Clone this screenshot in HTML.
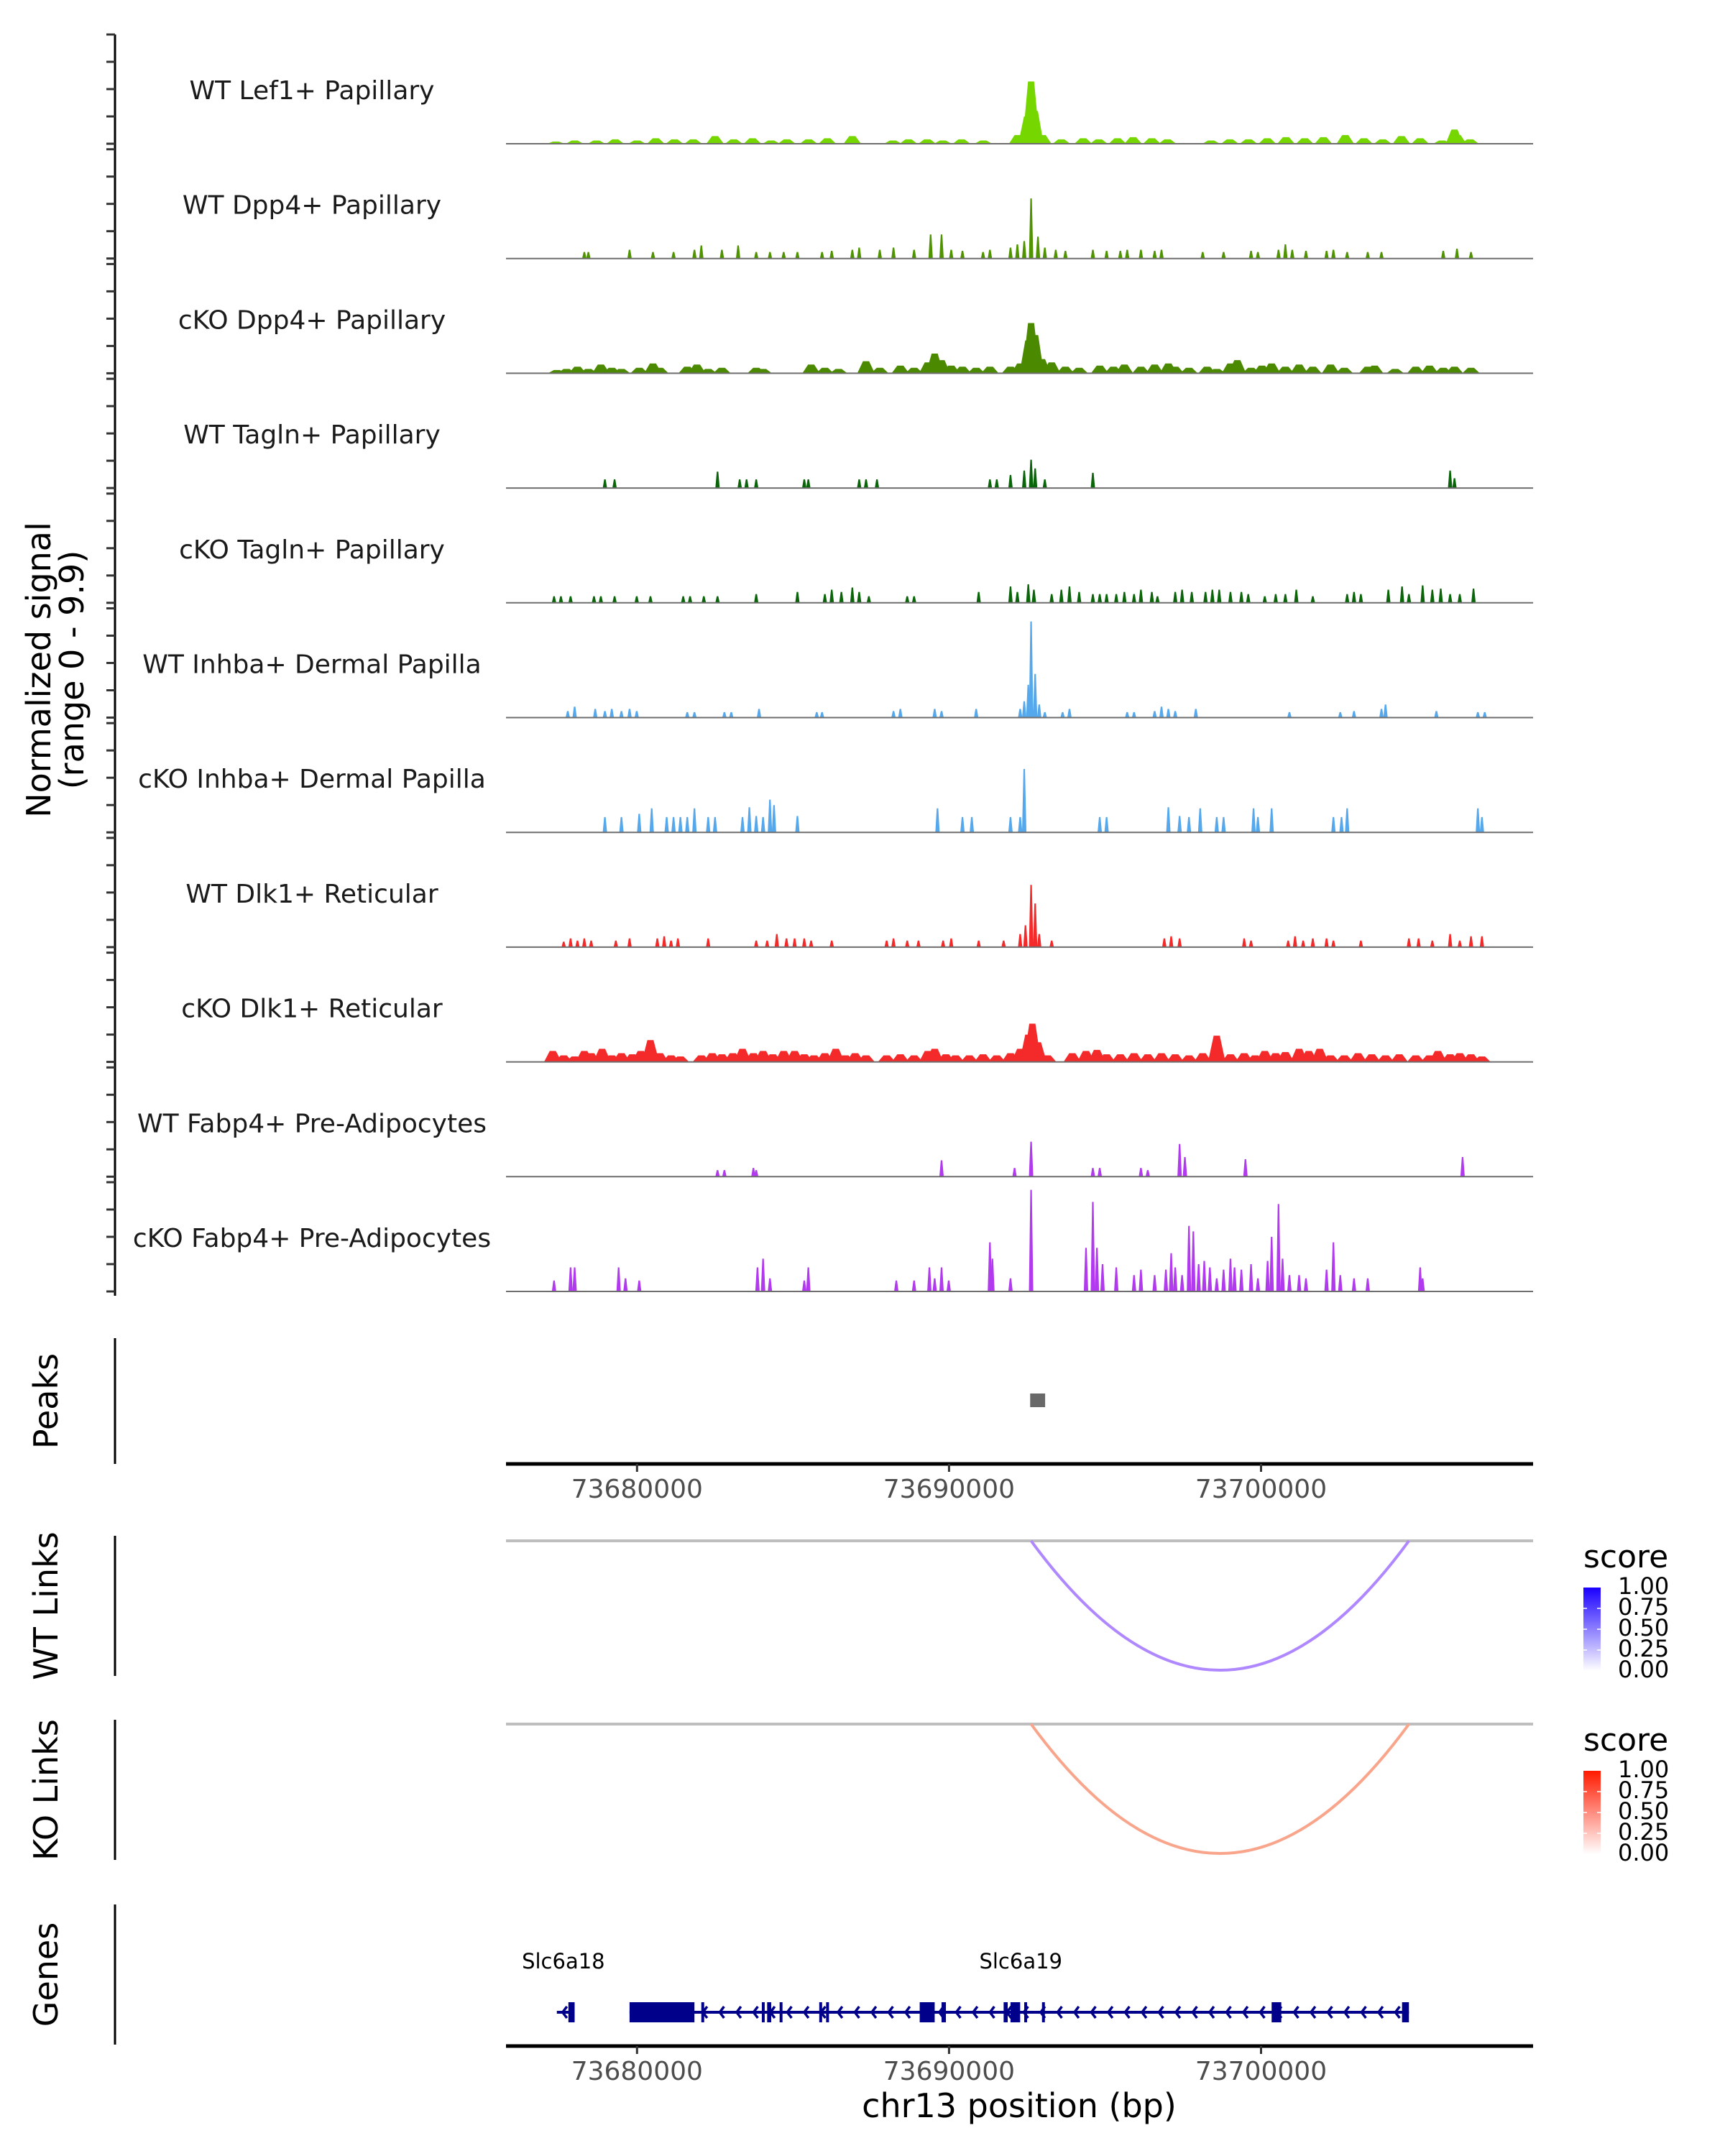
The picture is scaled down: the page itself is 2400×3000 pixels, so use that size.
<!DOCTYPE html>
<html><head><meta charset="utf-8"><style>
html,body{margin:0;padding:0;background:#fff}
svg{display:block;font-family:"DejaVu Sans","Liberation Sans",sans-serif}
</style></head><body>
<svg id="chart" width="2400" height="3000" viewBox="0 0 2400 3000" xmlns="http://www.w3.org/2000/svg">
<rect x="0" y="0" width="2400" height="3000" fill="#fff"/>
<g id="tracks"></g>
<g id="lower"></g>
</svg>
<script>
// ---- data (positions are kb offsets from region start 73675.8 kb) ----
const regionStartKb = 73675.8;
const regionEndKb = 73708.72;
const xTicks = [73680000, 73690000, 73700000];
const trackNames = ["WT Lef1+ Papillary","WT Dpp4+ Papillary","cKO Dpp4+ Papillary","WT Tagln+ Papillary","cKO Tagln+ Papillary","WT Inhba+ Dermal Papilla","cKO Inhba+ Dermal Papilla","WT Dlk1+ Reticular","cKO Dlk1+ Reticular","WT Fabp4+ Pre-Adipocytes","cKO Fabp4+ Pre-Adipocytes"];
const trackColors = ["#76d600","#4f9400","#4b8a00","#0a650a","#0a650a","#56a8ec","#56a8ec","#f42a2a","#f42a2a","#b23aee","#b23aee"];
const signalMax = 9.9;

const pos0 = [1.6,2.2,2.9,3.5,4.2,4.8,5.4,6.0,6.7,7.3,7.9,8.5,9.0,9.7,10.3,11.1,12.4,12.9,13.5,14.0,14.6,15.3,16.4,16.7,16.83,16.95,17.2,17.8,18.5,19.0,19.6,20.1,20.7,21.2,22.6,23.2,23.8,24.4,25.0,25.6,26.2,26.9,27.5,28.1,28.7,29.3,30.0,30.4,30.5,30.9];
const val0 = [.2,.3,.3,.4,.3,.5,.4,.4,.7,.4,.5,.3,.4,.4,.5,.7,.3,.4,.4,.3,.4,.3,.8,2.5,5.7,3,.8,.4,.5,.4,.5,.6,.5,.4,.3,.4,.4,.5,.6,.5,.6,.8,.5,.4,.7,.5,.3,1.3,.8,.4];
const pos1 = [2.51,2.64,3.96,4.71,5.37,6.04,6.26,6.92,7.44,8.02,8.46,8.9,9.34,10.13,10.44,11.1,11.32,11.98,12.42,13.08,13.61,13.96,14.27,14.63,15.29,15.51,16.17,16.39,16.61,16.83,17.05,17.27,17.62,17.93,18.81,19.25,19.69,19.91,20.35,20.79,21.01,22.33,23.0,23.88,24.1,24.76,24.98,25.2,25.64,26.3,26.52,26.96,27.62,28.06,30.04,30.48,30.93];
const val1 = [.6,.6,.8,.6,.6,.8,1.2,.8,1.2,.6,.6,.6,.6,.6,.7,.8,1.0,.8,1.0,.8,2.2,2.2,.8,.7,.6,.8,1.0,1.3,1.6,5.5,2.0,1.0,.8,.7,.8,.7,.7,.8,.8,.7,.8,.6,.6,.7,.6,.8,1.3,.8,.7,.7,.8,.6,.6,.6,.7,.9,.6];
const pos2 = [1.63,1.94,2.29,2.64,3.04,3.39,3.7,4.27,4.71,4.93,5.81,6.12,6.48,6.92,8.02,8.24,9.78,10.22,10.66,11.54,11.98,12.64,13.08,13.52,13.74,13.96,14.27,14.63,15.07,15.51,16.17,16.48,16.74,16.83,16.96,17.18,17.49,17.93,18.37,19.03,19.47,19.82,20.35,20.79,21.23,21.45,21.89,22.47,22.78,23.22,23.44,23.88,24.23,24.54,24.98,25.42,25.86,26.43,26.87,27.62,27.84,28.5,29.16,29.6,30.04,30.4,30.93];
const val2 = [.3,.4,.6,.4,.8,.5,.4,.5,.9,.5,.6,.8,.4,.5,.5,.4,.8,.5,.4,1.1,.5,.7,.5,1.0,1.8,1.2,.7,.6,.5,.6,.6,.9,3.0,4.6,3.5,1.3,1.0,.6,.5,.7,.6,.8,.6,.8,.9,.6,.5,.6,.4,.9,1.2,.5,.7,.9,.6,.8,.6,.8,.5,.6,.7,.4,.6,.7,.5,.6,.5];
const pos3 = [3.17,3.48,6.78,7.49,7.71,8.02,9.56,9.69,11.32,11.54,11.89,15.51,15.73,16.17,16.61,16.83,16.96,17.27,18.81,30.26,30.4];
const val3 = [.8,.8,1.5,.8,.8,.8,.8,.8,.8,.8,.8,.8,.8,1.2,1.6,2.6,1.8,.8,1.4,1.6,.9];
const pos4 = [1.54,1.76,2.07,2.82,3.04,3.48,4.19,4.63,5.68,5.9,6.34,6.78,8.02,9.34,10.22,10.44,10.75,11.1,11.32,11.63,12.86,13.08,15.15,16.17,16.39,16.74,16.92,17.49,17.8,18.06,18.37,18.81,19.03,19.25,19.56,19.82,20.13,20.35,20.7,20.88,21.45,21.67,21.98,22.42,22.64,22.86,23.22,23.57,23.79,24.32,24.67,24.98,25.33,25.86,26.96,27.18,27.4,28.28,28.72,28.94,29.38,29.69,29.96,30.26,30.57,31.01];
const val4 = [.6,.6,.6,.6,.6,.6,.6,.6,.6,.6,.6,.6,.8,1,.8,1.2,1,1.4,1,.6,.6,.6,1,1.5,1,1.7,1.2,.8,1.2,1.5,1,.8,.8,.8,.8,1,.8,1.2,1,.6,1,1.2,1,1,1.2,1.2,1,1,.8,.6,.8,.8,1.2,.6,.8,1,.8,1.2,1.5,.8,1.6,1.2,1.3,.8,.8,1.3];
const pos5 = [1.98,2.2,2.86,3.17,3.39,3.7,3.96,4.19,5.81,6.04,7.0,7.22,8.11,9.96,10.13,12.42,12.64,13.74,13.96,15.07,16.48,16.61,16.74,16.83,16.96,17.09,17.27,17.84,18.06,19.91,20.13,20.79,21.01,21.23,21.45,22.11,25.11,26.74,27.18,28.06,28.19,29.82,31.15,31.37];
const val5 = [.6,1,.8,.6,.8,.6,.8,.6,.5,.5,.5,.5,.8,.5,.5,.6,.8,.8,.6,.8,.8,1.5,3,8.8,4,1.2,.5,.5,.8,.5,.5,.6,1,.8,.6,.8,.5,.5,.6,.8,1.2,.6,.5,.5];
const pos6 = [3.17,3.7,4.27,4.67,5.15,5.37,5.59,5.81,6.04,6.48,6.7,7.58,7.8,8.02,8.24,8.46,8.59,9.34,13.83,14.63,14.93,16.17,16.48,16.61,19.03,19.25,21.23,21.59,21.89,22.25,22.78,23.0,23.96,24.1,24.54,26.52,26.78,26.96,31.15,31.28];
const val6 = [1.4,1.4,1.7,2.2,1.4,1.4,1.4,1.4,2.2,1.4,1.4,1.4,2.3,1.5,1.4,3,2.5,1.5,2.2,1.4,1.4,1.4,1.4,5.8,1.4,1.4,2.3,1.5,1.4,2.2,1.4,1.4,2.2,1.4,2.2,1.4,1.4,2.2,2.2,1.4];
const pos7 = [1.85,2.07,2.29,2.51,2.73,3.52,3.96,4.85,5.07,5.29,5.51,6.48,8.02,8.37,8.68,8.99,9.25,9.56,9.78,10.44,12.2,12.42,12.86,13.22,14.01,14.27,15.15,15.95,16.48,16.65,16.83,16.96,17.09,17.49,21.1,21.32,21.59,23.66,23.88,25.07,25.29,25.55,25.86,26.3,26.52,27.4,28.94,29.25,29.69,30.26,30.57,30.93,31.28];
const val7 = [.5,.8,.6,.8,.6,.6,.8,.8,1,.6,.8,.8,.6,.6,1.2,.8,.8,.8,.6,.6,.6,.8,.6,.6,.6,.8,.6,.6,1.2,2,5.7,4,1.2,.6,.8,1,.8,.8,.6,.6,1,.6,.8,.8,.6,.6,.8,.8,.6,1.2,.6,1,1];
const pos8 = [1.5,1.85,2.2,2.51,2.73,3.08,3.39,3.7,4.05,4.32,4.63,4.93,5.29,5.59,6.26,6.61,6.92,7.27,7.58,7.93,8.24,8.55,8.9,9.25,9.56,9.87,10.22,10.57,10.88,11.19,11.54,12.2,12.64,13.08,13.52,13.74,14.1,14.41,14.85,15.29,15.73,16.17,16.48,16.74,16.87,17.05,17.36,18.15,18.59,18.94,19.25,19.69,20.13,20.57,21.01,21.45,21.89,22.33,22.78,23.22,23.66,24.01,24.32,24.67,24.98,25.42,25.73,26.08,26.43,26.87,27.31,27.75,28.19,28.63,29.16,29.6,29.87,30.26,30.57,30.93,31.28];
const val8 = [1,.6,.5,1,.8,1.2,.6,.8,.7,1,2,.8,.6,.5,.6,.8,.7,.8,1.2,.8,1,.7,1,1,.7,.6,.8,1.2,.6,.8,.6,.6,.7,.6,1,1.2,.7,.6,.6,.7,.6,.8,1.2,2.5,3.5,1.8,.6,.8,1,1.1,.7,.7,.8,.7,.8,.7,.6,.8,2.4,.7,.8,.6,1,.8,.9,1.2,1,1.2,.6,.6,.8,.7,.6,.7,.6,.6,1,.7,.8,.7,.5];
const pos9 = [6.78,7.0,7.93,8.02,13.96,16.3,16.83,18.81,19.03,20.35,20.57,21.59,21.76,23.7,30.66];
const val9 = [.6,.6,.8,.6,1.5,.8,3.2,.8,.8,.8,.6,3,1.8,1.6,1.8];
const pos10 = [1.54,2.07,2.2,3.61,3.83,4.27,8.06,8.24,8.46,9.56,9.69,12.51,13.08,13.57,13.74,13.96,14.19,15.51,15.59,16.17,16.83,18.59,18.81,18.94,19.12,19.56,20.13,20.35,20.79,21.15,21.32,21.45,21.67,21.89,22.03,22.2,22.38,22.56,22.78,23.0,23.22,23.35,23.57,23.88,24.1,24.41,24.54,24.76,24.89,25.11,25.42,25.64,26.3,26.52,26.74,27.18,27.62,29.3,29.38];
const val10 = [1,2.2,2.2,2.2,1.2,1,2.2,3,1.2,1,2.2,1,1,2.2,1.2,2.2,1,4.5,3,1.2,9.3,4,8.2,4,2.5,2.2,1.5,2,1.5,2,3.5,2.2,1.5,6,5.5,2.5,2.8,2.2,1.2,2,3,2.2,2,2.5,1.2,2.8,5,8,3,1.5,1.5,1.2,2,4.5,1.5,1.2,1.2,2.2,1.2];
const trackPos = [pos0,pos1,pos2,pos3,pos4,pos5,pos6,pos7,pos8,pos9,pos10];
const trackVal = [val0,val1,val2,val3,val4,val5,val6,val7,val8,val9,val10];

const peakStarts = [73692.6];
const peakEnds = [73693.08];

const wtLinkStart = [73692.63]; const wtLinkEnd = [73704.74]; const wtLinkScore = [0.5];
const koLinkStart = [73692.63]; const koLinkEnd = [73704.74]; const koLinkScore = [0.5];
const legendTicks = ["1.00","0.75","0.50","0.25","0.00"];

const geneNames = ["Slc6a18","Slc6a19"];
const geneStart = [73677.43,73679.76];
const geneEnd = [73678.0,73704.74];
const geneLabelPos = [73677.64,73692.3];
const exonStart = [73677.8,73679.76,73682.06,73684.0,73684.17,73684.57,73685.84,73686.06,73689.06,73689.76,73691.75,73691.97,73692.41,73692.98,73700.34,73704.52];
const exonEnd = [73678.0,73681.84,73682.14,73684.09,73684.3,73684.66,73685.93,73686.15,73689.54,73689.9,73691.88,73692.28,73692.5,73693.07,73700.65,73704.74];

// ---- layout ----
const PL = 704, PR = 2133;
const kbPx = (PR - PL) / (regionEndKb - regionStartKb);
const xOff = k => PL + k * kbPx;
const xKb = kb => xOff(kb - regionStartKb);
const firstBase = 200, trackStep = 159.7, unitPx = 15.2;
const NS = "http://www.w3.org/2000/svg";
function mk(tag, attrs, parent, txt){ const e=document.createElementNS(NS,tag); for(const k in attrs) e.setAttribute(k,attrs[k]); if(txt!==undefined) e.textContent=txt; parent.appendChild(e); return e; }

const tg = document.getElementById('tracks');
const lg = document.getElementById('lower');

let ax = mk('line',{x1:160,x2:160,y1:48,y2:1803,stroke:'#000','stroke-width':3},tg);


let yt = mk('text',{x:0,y:0,transform:'translate(76,932) rotate(-90)','text-anchor':'middle','font-size':46,fill:'#000'},tg);


mk('tspan',{x:0,dy:-6},yt,'Normalized signal');
mk('tspan',{x:0,dy:46},yt,'(range 0 - 9.9)');

trackNames.forEach((name,i)=>{
  const base = firstBase + i*trackStep;
  const g = mk('g',{},tg);
  
  
  for(let t=0;t<5;t++){
    const ty = base - t*2.5*unitPx;
    const tk = mk('line',{x1:148,x2:160,y1:ty,y2:ty,stroke:'#333','stroke-width':3},g);
    
    
  }
  const lb = mk('text',{x:434,y:base-72,'text-anchor':'middle','dominant-baseline':'middle','font-size':36,fill:'#1a1a1a'},g,name);
  
  
  const dense = (i===0||i===2||i===8);
  const hw = dense ? 0.28 : 0.07;
  trackPos[i].forEach((p,j)=>{
    const v = trackVal[i][j];
    const x = xOff(p), w = hw*kbPx, h = v*unitPx;
    const pts = [[x-w,base],[x-w*0.35,base-h],[x+w*0.35,base-h],[x+w,base]].map(a=>a.join(',')).join(' ');
    const m = mk('polygon',{points:pts,fill:trackColors[i]},g);
    
    
  });
  const bl = mk('line',{x1:PL,x2:PR,y1:base,y2:base,stroke:'#6e6e6e','stroke-width':2},g);
  
  
});

function sidePanel(label, y1, y2, name){
  const l = mk('line',{x1:160,x2:160,y1:y1,y2:y2,stroke:'#000','stroke-width':3},lg);
  
  
  const cy=(y1+y2)/2;
  const t = mk('text',{x:0,y:0,transform:'translate(80,'+cy+') rotate(-90)','text-anchor':'middle','font-size':46,fill:'#000'},lg,label);
  
  
}
sidePanel('Peaks',1862,2037,'peaks');
sidePanel('WT Links',2137,2332,'wt-links');
sidePanel('KO Links',2393,2588,'ko-links');
sidePanel('Genes',2650,2845,'genes');

peakStarts.forEach((s,i)=>{
  const r = mk('rect',{x:xKb(s),y:1939,width:xKb(peakEnds[i])-xKb(s),height:19,fill:'#696969'},lg);
  
  
});

function xAxis(y, name){
  const g = mk('g',{},lg);
  
  
  const l = mk('line',{x1:PL,x2:PR,y1:y,y2:y,stroke:'#000','stroke-width':5},g);
  
  
  xTicks.forEach(t=>{
    const x = xKb(t/1000);
    const tk = mk('line',{x1:x,x2:x,y1:y,y2:y+11,stroke:'#333','stroke-width':3},g);
    
    
    const tl = mk('text',{x:x,y:y+47,'text-anchor':'middle','font-size':36,fill:'#4d4d4d'},g,String(t));
    
    
  });
}
xAxis(2037,'peaks-x-axis');
xAxis(2847,'genes-x-axis');
const xtitle = mk('text',{x:1418,y:2946,'text-anchor':'middle','font-size':46,fill:'#000'},lg,'chr13 position (bp)');



const defs = mk('defs',{},lg);
function grad(id, color){
  const gr = mk('linearGradient',{id:id,x1:0,y1:1,x2:0,y2:0},defs);
  mk('stop',{offset:'0','stop-color':'#ffffff'},gr);
  mk('stop',{offset:'1','stop-color':color},gr);
}
grad('gwt','#1a00ff'); grad('gko','#ff1a00');
function mix(c0,c1,s){ return 'rgb('+c0.map((v,i)=>Math.round(v+(c1[i]-v)*Math.min(1,s))).join(',')+')'; }
function linkPanel(top, starts, ends, scores, hi, gid, name){
  const g = mk('g',{},lg);
  
  
  const gl = mk('line',{x1:PL,x2:PR,y1:top,y2:top,stroke:'#bebebe','stroke-width':4},g);
  
  
  starts.forEach((s,i)=>{
    const x1=xKb(s), x2=xKb(ends[i]), depth=180;
    const a = mk('path',{d:'M'+x1+','+top+' Q'+((x1+x2)/2)+','+(top+2*depth)+' '+x2+','+top,fill:'none',stroke:mix([255,255,255],hi,scores[i]*2),'stroke-width':4},g);
    
    
  });
  const lgd = mk('g',{},g);
  
  
  const st = mk('text',{x:2203,y:top+37,'font-size':44,fill:'#000'},lgd,'score');
  
  
  const by=top+65, bh=116;
  const cb = mk('rect',{x:2203,y:by,width:24,height:bh,fill:'url(#'+gid+')'},lgd);
  
  
  legendTicks.forEach((t,i)=>{
    const yy = by + i*bh/4;
    if(i>0&&i<4){ mk('line',{x1:2203,x2:2208,y1:yy,y2:yy,stroke:'#fff','stroke-width':1.5},lgd); mk('line',{x1:2222,x2:2227,y1:yy,y2:yy,stroke:'#fff','stroke-width':1.5},lgd); }
    const tl = mk('text',{x:2251,y:yy,'dominant-baseline':'middle','font-size':32,fill:'#000'},lgd,t);
    
    
  });
}
linkPanel(2144, wtLinkStart, wtLinkEnd, wtLinkScore, [175,135,255], 'gwt', 'wt-links-panel');
linkPanel(2399, koLinkStart, koLinkEnd, koLinkScore, [249,165,140], 'gko', 'ko-links-panel');

const gy = 2800, gc = '#00008b';
const gg = mk('g',{},lg);


geneNames.forEach((n,i)=>{
  const x1=xKb(geneStart[i]), x2=xKb(geneEnd[i]);
  const l = mk('line',{x1:x1,x2:x2,y1:gy,y2:gy,stroke:gc,'stroke-width':4},gg);
  
  
  for(let x=x1+8; x<x2-6; x+=23.5){
    const c = mk('polyline',{points:(x+6)+','+(gy-8)+' '+x+','+gy+' '+(x+6)+','+(gy+8),fill:'none',stroke:gc,'stroke-width':3.5},gg);
    
    
  }
  const t = mk('text',{x:xKb(geneLabelPos[i]),y:2739,'text-anchor':'middle','font-size':29,fill:'#000'},gg,n);
  
  
});
exonStart.forEach((s,i)=>{
  const x1=xKb(s), x2=xKb(exonEnd[i]);
  const h = 28;
  const r = mk('rect',{x:x1,y:gy-h/2,width:Math.max(x2-x1,4),height:h,fill:gc},gg);
  
  
});
</script>
</body></html>
